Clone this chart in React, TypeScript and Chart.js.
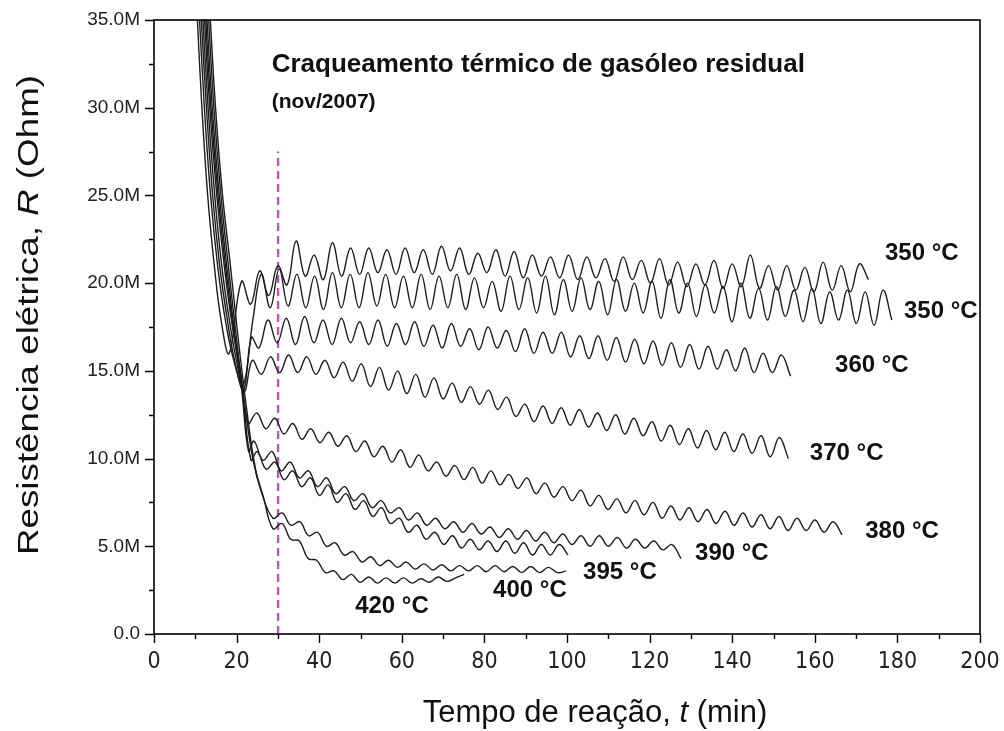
import React, { useEffect, useRef } from 'react';
import { Chart, registerables } from 'chart.js';

Chart.register(...registerables);

// ---------------- data (resistance in MOhm, time in min) ----------------
const seriesNames = ['350 °C', '350 °C', '360 °C', '370 °C', '380 °C', '390 °C', '395 °C', '400 °C', '420 °C'];

const xMajorTicks = [0, 20, 40, 60, 80, 100, 120, 140, 160, 180, 200];
const yMajorTicks = [0, 5, 10, 15, 20, 25, 30, 35];

// 350 °C (upper)
const t350aDecay = [10.3, 11.6, 13.0, 14.6, 16.3, 18.2];
const r350aDecay = [36, 30, 25, 21, 17.8, 16.0];
const r350aOsc = [20.1, 18.8, 20.7, 19.3, 21.0, 19.9, 22.4, 20.4, 21.6, 20.2,
  22.3, 20.4, 22.0, 20.5, 22.0, 20.6, 21.9, 20.5, 22.0, 20.6,
  21.9, 20.5, 22.1, 20.7, 22.0, 20.5, 21.7, 20.6, 21.9, 20.4,
  21.8, 20.3, 21.6, 20.4, 21.5, 20.3, 21.6, 20.2, 21.5, 20.3,
  21.4, 20.1, 21.5, 20.2, 21.3, 20.0, 21.4, 19.9, 21.2, 19.8,
  21.1, 19.9, 21.3, 19.7, 21.1, 19.8, 21.6, 19.7, 21.0, 19.6,
  21.0, 19.6, 20.9, 19.5, 21.2, 19.6, 21.0, 19.5, 21.1, 20.2];

// 350 °C (lower)
const t350bDecay = [10.8, 12.2, 13.7, 15.4, 17.2, 19.3, 21.6, 24.0];
const r350bDecay = [36, 30, 25, 21, 18.0, 15.6, 14.2, 18.0];
const r350bOsc = [20.5, 18.6, 20.8, 18.7, 20.5, 18.6, 20.4, 18.5, 20.6, 18.6,
  20.5, 18.6, 20.6, 18.7, 20.5, 18.6, 20.4, 18.6, 20.5, 18.5,
  20.4, 18.6, 20.5, 18.5, 20.3, 18.6, 20.1, 18.4, 20.4, 18.5,
  20.3, 18.3, 20.4, 18.2, 20.2, 18.4, 20.3, 18.5, 20.1, 18.2,
  20.2, 18.4, 20.0, 18.3, 20.1, 18.0, 20.2, 18.3, 20.0, 18.1,
  19.9, 18.3, 19.8, 17.8, 20.0, 18.0, 19.7, 17.9, 19.8, 18.1,
  19.6, 17.8, 19.7, 17.7, 19.5, 17.9, 19.6, 17.7, 19.5, 17.6,
  19.6, 17.9];

// 360 °C
const t360Decay = [11.2, 12.7, 14.2, 15.9, 17.7, 19.6, 21.7, 23.6, 25.4];
const r360Decay = [36, 30, 25, 21, 18.0, 15.5, 13.9, 16.9, 16.3];
const r360Osc = [17.9, 16.6, 18.0, 16.5, 18.1, 16.6, 17.9, 16.5, 18.0, 16.6,
  17.8, 16.5, 17.9, 16.4, 17.7, 16.5, 17.8, 16.4, 17.6, 16.3,
  17.7, 16.4, 17.4, 16.2, 17.5, 16.3, 17.3, 16.1, 17.4, 16.0,
  17.2, 16.0, 17.2, 15.8, 17.0, 15.7, 17.0, 15.6, 16.9, 15.5,
  16.8, 15.4, 16.7, 15.3, 16.6, 15.2, 16.5, 15.1, 16.4, 15.1,
  16.2, 15.0, 16.3, 14.9, 16.0, 14.9, 15.9, 14.7];

// 370 °C
const t370Decay = [11.6, 13.1, 14.7, 16.4, 18.3, 20.2, 21.9];
const r370Decay = [36, 30, 25, 21, 17.8, 15.3, 13.8];
const r370Osc = [15.6, 14.8, 15.8, 14.9, 15.9, 14.9, 15.8, 14.8, 15.6, 14.6,
  15.5, 14.4, 15.4, 14.1, 15.2, 13.9, 15.0, 13.7, 14.8, 13.5,
  14.6, 13.4, 14.3, 13.2, 14.1, 13.1, 13.9, 12.8, 13.5, 12.4,
  13.1, 12.1, 13.0, 12.0, 12.9, 11.9, 12.8, 11.8, 12.6, 11.6,
  12.5, 11.4, 12.3, 11.3, 12.1, 11.0, 11.9, 10.8, 11.7, 10.6,
  11.6, 10.5, 11.5, 10.4, 11.4, 10.3, 11.3, 10.1, 11.2, 10.0];

// 380 °C
const t380Decay = [12.0, 13.5, 15.2, 17.0, 19.0, 21.0, 22.8];
const r380Decay = [36, 30, 25, 21, 17.5, 14.8, 12.0];
const r380Osc = [12.6, 11.7, 12.3, 11.4, 12.0, 11.1, 11.7, 10.9, 11.5, 10.7,
  11.3, 10.4, 11.0, 10.1, 10.7, 9.8, 10.5, 9.5, 10.2, 9.3,
  9.8, 9.0, 9.6, 8.8, 9.5, 8.6, 9.3, 8.5, 9.1, 8.3,
  8.9, 8.0, 8.6, 7.8, 8.4, 7.6, 8.2, 7.3, 7.9, 7.1,
  7.7, 6.9, 7.6, 6.8, 7.5, 6.6, 7.3, 6.5, 7.2, 6.4,
  7.1, 6.3, 7.0, 6.2, 6.9, 6.1, 6.8, 6.0, 6.7, 5.9,
  6.6, 5.9, 6.5, 5.8, 6.4, 5.65];

// 390 °C
const t390Decay = [12.3, 13.8, 15.5, 17.3, 19.3, 21.2, 22.9];
const r390Decay = [36, 30, 25, 21, 17.2, 14.0, 10.4];
const r390Osc = [11.0, 9.9, 10.4, 9.3, 9.8, 8.9, 9.3, 8.4, 8.9, 8.0,
  8.4, 7.6, 8.0, 7.2, 7.6, 6.9, 7.2, 6.5, 6.9, 6.2,
  6.6, 6.0, 6.4, 5.8, 6.3, 5.7, 6.1, 5.5, 6.0, 5.4,
  5.9, 5.3, 5.8, 5.2, 5.7, 5.1, 5.6, 5.0, 5.6, 5.0,
  5.5, 4.9, 5.4, 4.9, 5.3, 4.8, 5.1, 4.3];

// 395 °C
const t395Decay = [12.6, 14.1, 15.8, 17.6, 19.6, 21.5, 23.5];
const r395Decay = [36, 30, 25, 21, 17.0, 13.6, 9.9];
const r395Osc = [10.4, 9.4, 9.8, 8.8, 9.3, 8.4, 8.9, 7.9, 8.5, 7.5,
  8.0, 7.1, 7.6, 6.7, 7.2, 6.3, 6.6, 5.8, 6.2, 5.4,
  5.8, 5.1, 5.6, 4.9, 5.4, 4.8, 5.3, 4.7, 5.3, 4.6,
  5.2, 4.5, 5.1, 4.5, 5.1, 4.5];

// 400 °C
const t400Decay = [13.0, 14.5, 16.2, 18.0, 20.0, 22.0, 24.0, 26.0, 28.8];
const r400Decay = [36, 30, 25, 21, 16.8, 13.0, 9.9, 8.1, 6.6];
const r400Osc = [6.9, 6.2, 6.4, 5.6, 5.8, 5.0, 5.2, 4.5, 4.7, 4.1,
  4.4, 3.9, 4.2, 3.8, 4.1, 3.7, 4.0, 3.65, 3.95, 3.6,
  3.9, 3.6, 3.9, 3.55, 3.9, 3.55, 3.85, 3.5, 3.85, 3.5,
  3.8, 3.5, 3.6];

// 420 °C
const t420Decay = [13.4, 14.9, 16.6, 18.5, 20.5, 22.5, 24.5, 26.5, 28.8];
const r420Decay = [36, 30, 25, 21, 16.6, 12.7, 9.5, 7.8, 6.0];
const r420Osc = [6.3, 5.4, 5.3, 4.3, 4.2, 3.5, 3.6, 3.1, 3.4, 2.95,
  3.25, 2.9, 3.2, 2.9, 3.2, 2.9, 3.15, 2.95, 3.25, 3.0,
  3.2, 3.4];

// sampling grid of the oscillating part of each run: first time, spacing (min)
const oscStart = [21.2, 26.0, 27.6, 23.8, 24.9, 24.2, 25.0, 31.0, 31.0];
const oscStep = [2.2, 2.15, 2.22, 2.2, 2.18, 2.2, 2.15, 2.15, 2.1];

const decayTimes = [t350aDecay, t350bDecay, t360Decay, t370Decay, t380Decay, t390Decay, t395Decay, t400Decay, t420Decay];
const decayValues = [r350aDecay, r350bDecay, r360Decay, r370Decay, r380Decay, r390Decay, r395Decay, r400Decay, r420Decay];
const oscValues = [r350aOsc, r350bOsc, r360Osc, r370Osc, r380Osc, r390Osc, r395Osc, r400Osc, r420Osc];

// reference line at t = 30 min
const refLineX = [30, 30];
const refLineY = [0, 27.5];

// ---------------- layout / style (not data) ----------------
const W = 1004;
const H = 731;
const SANS = '"Liberation Sans", Arial, sans-serif';
const NARROW = '"Liberation Sans Narrow", "DejaVu Sans Condensed", sans-serif';

// label anchors in data units (left edge, vertical middle)
const labelAnchors = [
  [177.0, 21.7], [181.6, 18.4], [164.9, 15.3], [158.8, 10.3], [172.2, 5.85],
  [131.0, 4.6], [103.9, 3.5], [82.1, 2.5], [48.7, 1.6],
];

const noScalePadding = (s: any) => {
  s.paddingLeft = 0;
  s.paddingRight = 0;
  s.paddingTop = 0;
  s.paddingBottom = 0;
};

const decorPlugin = {
  id: 'decor',
  afterDraw(chart: any) {
    const { ctx, chartArea: a, scales } = chart;
    const xs = scales.x;
    const ys = scales.y;
    ctx.save();
    // frame
    ctx.strokeStyle = '#000';
    ctx.lineWidth = 1.6;
    ctx.strokeRect(a.left, a.top, a.right - a.left, a.bottom - a.top);
    // ticks (outside)
    ctx.lineWidth = 1.4;
    ctx.beginPath();
    for (let v = 0; v <= 200; v += 10) {
      const px = Math.round(xs.getPixelForValue(v)) + 0.5;
      const len = v % 20 === 0 ? 9 : 5;
      ctx.moveTo(px, a.bottom);
      ctx.lineTo(px, a.bottom + len);
    }
    for (let v = 0; v <= 35; v += 2.5) {
      const py = Math.round(ys.getPixelForValue(v)) + 0.5;
      const len = v % 5 === 0 ? 9 : 5;
      ctx.moveTo(a.left, py);
      ctx.lineTo(a.left - len, py);
    }
    ctx.stroke();

    ctx.fillStyle = '#111';
    // chart title
    ctx.textBaseline = 'alphabetic';
    ctx.textAlign = 'left';
    ctx.font = `bold 26px ${SANS}`;
    ctx.fillText('Craqueamento térmico de gasóleo residual', xs.getPixelForValue(28.5), ys.getPixelForValue(32.04));
    ctx.font = `bold 21px ${SANS}`;
    ctx.fillText('(nov/2007)', xs.getPixelForValue(28.5), ys.getPixelForValue(30.0));

    // series labels
    ctx.font = `bold 24px ${SANS}`;
    ctx.textBaseline = 'middle';
    labelAnchors.forEach(([t, r], i) => {
      ctx.fillText(seriesNames[i], xs.getPixelForValue(t), ys.getPixelForValue(r));
    });

    // x axis title with italic t
    ctx.fillStyle = '#111';
    ctx.textBaseline = 'alphabetic';
    const xParts: [string, string][] = [
      ['Tempo de reação, ', `31px ${SANS}`],
      ['t', `italic 31px ${SANS}`],
      [' (min)', `31px ${SANS}`],
    ];
    let total = 0;
    xParts.forEach(([s, f]) => { ctx.font = f; total += ctx.measureText(s).width; });
    let cx = 595 - total / 2;
    xParts.forEach(([s, f]) => { ctx.font = f; ctx.fillText(s, cx, 722); cx += ctx.measureText(s).width; });

    // y axis title with italic R (drawn elongated along its length like the original)
    const yParts: [string, string][] = [
      ['Resistência elétrica, ', `29px ${SANS}`],
      ['R', `italic 29px ${SANS}`],
      [' (Ohm)', `29px ${SANS}`],
    ];
    total = 0;
    yParts.forEach(([s, f]) => { ctx.font = f; total += ctx.measureText(s).width; });
    const stretch = 480 / total;
    ctx.translate(38, 315);
    ctx.rotate(-Math.PI / 2);
    ctx.scale(stretch, 1);
    cx = -total / 2;
    yParts.forEach(([s, f]) => { ctx.font = f; ctx.fillText(s, cx, 0); cx += ctx.measureText(s).width; });
    ctx.restore();
  },
};

export default function App() {
  const ref = useRef<HTMLCanvasElement | null>(null);

  useEffect(() => {
    if (!ref.current) return;
    const datasets: any[] = seriesNames.map((name, i) => {
      const pts = decayTimes[i].map((t, k) => ({ x: t, y: decayValues[i][k] }));
      oscValues[i].forEach((r, k) => pts.push({ x: oscStart[i] + k * oscStep[i], y: r }));
      return {
        label: name,
        data: pts,
        borderColor: '#1c1c1c',
        borderWidth: 1.4,
        pointRadius: 0,
        tension: 0.4,
        fill: false,
      };
    });
    datasets.push({
      label: 't = 30 min',
      data: refLineX.map((x, k) => ({ x, y: refLineY[k] })),
      borderColor: 'rgb(225, 50, 225)',
      borderWidth: 2,
      borderDash: [8, 5],
      pointRadius: 0,
      tension: 0,
      fill: false,
    });

    const chart = new Chart(ref.current, {
      type: 'line',
      data: { datasets },
      options: {
        responsive: false,
        animation: false,
        events: [],
        layout: { padding: { top: 20, right: 24, left: 0, bottom: 0 } },
        plugins: { legend: { display: false }, tooltip: { enabled: false } },
        scales: {
          x: {
            type: 'linear',
            min: 0,
            max: 200,
            afterFit: (s: any) => { s.height = H - 634; noScalePadding(s); },
            afterBuildTicks: (s: any) => { s.ticks = xMajorTicks.map((v) => ({ value: v })); },
            grid: { display: false, drawTicks: false },
            border: { display: false },
            ticks: {
              padding: 14,
              color: '#222',
              font: { family: NARROW, size: 23 },
              maxRotation: 0,
            },
          },
          y: {
            type: 'linear',
            min: 0,
            max: 35,
            afterFit: (s: any) => { s.width = 154; noScalePadding(s); },
            afterBuildTicks: (s: any) => { s.ticks = yMajorTicks.map((v) => ({ value: v })); },
            grid: { display: false, drawTicks: false },
            border: { display: false },
            ticks: {
              padding: 14,
              color: '#222',
              font: { family: SANS, size: 19 },
              callback: (v: any) => (Number(v) === 0 ? '0.0' : Number(v).toFixed(1) + 'M'),
            },
          },
        },
      },
      plugins: [decorPlugin],
    } as any);
    return () => chart.destroy();
  }, []);

  return (
    <div style={{ position: 'absolute', left: 0, top: 0, width: W, height: H, background: '#fff' }}>
      <canvas ref={ref} width={W} height={H} style={{ display: 'block' }} />
    </div>
  );
}
